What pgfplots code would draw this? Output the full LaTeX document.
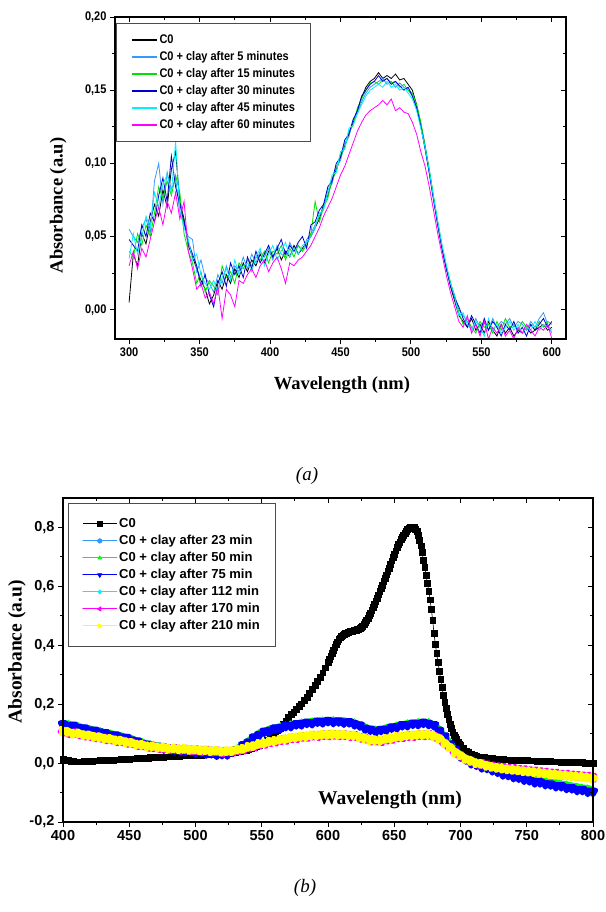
\documentclass[border=0pt]{standalone}
\usepackage{pgfplots}
\pgfplotsset{compat=1.18}
\usepackage{pgfplotstable}
\usepackage{fontspec}
\setmainfont{Liberation Serif}
\newfontfamily\narrowsans[FakeStretch=0.88]{Liberation Sans}
\newfontfamily\arialf{Liberation Sans}

\definecolor{lblue}{RGB}{51,153,255}
\definecolor{cgreen}{RGB}{0,225,0}
\definecolor{dblue}{RGB}{0,0,205}
\definecolor{ccyan}{RGB}{0,240,255}
\definecolor{cmag}{RGB}{255,0,255}
\definecolor{cyel}{RGB}{255,255,0}
\definecolor{bgreen}{RGB}{0,255,0}
\definecolor{bblue}{RGB}{0,0,255}

\pgfplotstableread{
x c0 m5 m15 m30 m45 m60
300 0.005 0.055 0.040 0.048 0.035 0.030
303 0.038 0.050 0.036 0.044 0.052 0.040
306 0.030 0.046 0.052 0.040 0.038 0.028
309 0.052 0.056 0.044 0.058 0.050 0.042
312 0.045 0.062 0.058 0.050 0.064 0.036
315 0.060 0.052 0.050 0.066 0.056 0.048
318 0.072 0.088 0.066 0.060 0.080 0.060
321 0.064 0.100 0.084 0.078 0.070 0.070
324 0.082 0.072 0.076 0.090 0.086 0.058
327 0.070 0.094 0.088 0.074 0.092 0.074
330 0.096 0.082 0.078 0.105 0.080 0.066
333 0.108 0.090 0.092 0.084 0.115 0.080
336 0.074 0.066 0.080 0.072 0.068 0.062
339 0.062 0.058 0.052 0.060 0.056 0.074
342 0.044 0.050 0.040 0.046 0.048 0.040
345 0.036 0.048 0.032 0.038 0.034 0.028
348 0.028 0.026 0.018 0.030 0.038 0.014
351 0.020 0.034 0.026 0.016 0.024 0.018
354 0.014 0.022 0.012 0.024 0.018 0.008
357 0.004 0.018 0.020 0.010 0.014 0.012
360 0.010 0.012 0.016 0.002 0.020 0.004
363 0.020 0.024 0.010 0.018 0.012 0.016
366 0.014 0.018 0.030 0.026 0.022 -0.006
369 0.024 0.030 0.022 0.016 0.028 0.014
372 0.018 0.022 0.026 0.032 0.020 0.010
375 0.028 0.030 0.018 0.024 0.034 0.002
378 0.022 0.026 0.032 0.030 0.024 0.020
381 0.032 0.036 0.028 0.022 0.030 0.018
384 0.026 0.028 0.034 0.036 0.032 0.024
387 0.034 0.038 0.030 0.028 0.026 0.028
390 0.030 0.032 0.036 0.040 0.036 0.022
393 0.038 0.040 0.034 0.032 0.042 0.030
396 0.032 0.036 0.040 0.038 0.030 0.034
399 0.040 0.042 0.032 0.044 0.038 0.026
402 0.036 0.034 0.040 0.036 0.044 0.032
405 0.042 0.044 0.038 0.042 0.034 0.036
408 0.034 0.038 0.044 0.048 0.040 0.028
411 0.040 0.036 0.034 0.038 0.046 0.018
414 0.036 0.046 0.042 0.044 0.036 0.032
417 0.044 0.040 0.036 0.040 0.042 0.030
420 0.038 0.044 0.044 0.046 0.038 0.034
423 0.042 0.040 0.040 0.050 0.044 0.036
426 0.046 0.048 0.044 0.042 0.046 0.040
429 0.050 0.052 0.052 0.058 0.050 0.044
432 0.056 0.058 0.074 0.060 0.056 0.050
435 0.062 0.064 0.060 0.068 0.066 0.056
438 0.072 0.070 0.070 0.072 0.068 0.064
441 0.078 0.082 0.076 0.084 0.080 0.070
444 0.088 0.086 0.090 0.088 0.092 0.076
447 0.096 0.098 0.094 0.100 0.094 0.084
450 0.104 0.102 0.106 0.104 0.108 0.092
453 0.112 0.114 0.110 0.116 0.110 0.098
456 0.120 0.118 0.122 0.120 0.124 0.106
459 0.128 0.130 0.126 0.130 0.126 0.114
462 0.136 0.134 0.138 0.136 0.134 0.122
465 0.145 0.142 0.144 0.146 0.140 0.128
468 0.152 0.148 0.150 0.150 0.146 0.133
471 0.156 0.152 0.155 0.154 0.150 0.136
474 0.158 0.154 0.156 0.156 0.152 0.138
477 0.162 0.156 0.154 0.160 0.154 0.140
480 0.158 0.158 0.157 0.156 0.152 0.143
483 0.160 0.154 0.158 0.158 0.156 0.140
486 0.158 0.156 0.155 0.154 0.152 0.144
489 0.161 0.152 0.156 0.156 0.154 0.136
492 0.157 0.155 0.152 0.153 0.150 0.138
495 0.158 0.152 0.154 0.150 0.152 0.135
498 0.154 0.150 0.150 0.152 0.148 0.134
501 0.150 0.146 0.148 0.146 0.144 0.128
504 0.140 0.138 0.140 0.138 0.136 0.120
507 0.127 0.126 0.128 0.125 0.124 0.108
510 0.112 0.110 0.112 0.110 0.111 0.098
513 0.095 0.094 0.096 0.093 0.095 0.084
516 0.076 0.076 0.078 0.075 0.077 0.068
519 0.058 0.060 0.060 0.058 0.060 0.052
522 0.042 0.044 0.044 0.042 0.044 0.038
525 0.029 0.030 0.030 0.028 0.031 0.024
528 0.016 0.018 0.019 0.017 0.018 0.012
531 0.006 0.010 0.008 0.008 0.009 0.002
534 -0.004 0.000 -0.002 0.002 -0.004 -0.008
537 -0.008 -0.004 -0.010 -0.006 -0.002 -0.012
540 -0.012 -0.008 -0.006 -0.012 -0.010 -0.004
543 -0.006 -0.014 -0.012 -0.004 -0.014 -0.016
546 -0.014 -0.006 -0.016 -0.010 -0.008 -0.010
549 -0.010 -0.012 -0.008 -0.016 -0.012 -0.018
552 -0.016 -0.008 -0.012 -0.006 -0.018 -0.008
555 -0.008 -0.014 -0.010 -0.014 -0.006 -0.020
558 -0.014 -0.006 -0.016 -0.008 -0.014 -0.012
561 -0.018 -0.012 -0.008 -0.012 -0.010 -0.016
564 -0.010 -0.008 -0.014 -0.018 -0.016 -0.010
567 -0.016 -0.010 -0.006 -0.010 -0.012 -0.018
570 -0.012 -0.006 -0.012 -0.014 -0.008 -0.014
573 -0.018 -0.012 -0.010 -0.008 -0.014 -0.020
576 -0.014 -0.008 -0.014 -0.016 -0.010 -0.012
579 -0.016 -0.010 -0.008 -0.012 -0.016 -0.016
582 -0.012 -0.014 -0.012 -0.018 -0.012 -0.010
585 -0.016 -0.008 -0.010 -0.010 -0.014 -0.014
588 -0.014 -0.012 -0.014 -0.014 -0.008 -0.018
591 -0.012 -0.006 -0.008 -0.010 -0.014 -0.012
594 -0.010 -0.002 -0.012 -0.006 -0.010 -0.014
597 -0.014 -0.010 -0.008 -0.012 -0.012 -0.010
600 -0.012 -0.016 -0.010 -0.008 -0.014 -0.020
}\tabA

\pgfplotstableread{
x c0
400 0.013
402 0.011
404 0.009
406 0.007
408 0.006
410 0.005
412 0.005
414 0.005
416 0.006
418 0.006
420 0.007
422 0.007
424 0.008
426 0.008
428 0.009
430 0.009
432 0.010
434 0.010
436 0.011
438 0.011
440 0.012
442 0.012
444 0.013
446 0.013
448 0.014
450 0.014
452 0.015
454 0.015
456 0.016
458 0.017
460 0.017
462 0.018
464 0.018
466 0.019
468 0.019
470 0.020
472 0.020
474 0.021
476 0.021
478 0.022
480 0.022
482 0.023
484 0.023
486 0.024
488 0.024
490 0.025
492 0.025
494 0.026
496 0.026
498 0.027
500 0.027
502 0.028
504 0.028
506 0.029
508 0.029
510 0.030
512 0.030
514 0.031
516 0.031
518 0.032
520 0.033
522 0.033
524 0.034
526 0.035
528 0.036
530 0.037
532 0.039
534 0.040
536 0.042
538 0.044
540 0.047
542 0.050
544 0.053
546 0.057
548 0.061
550 0.066
552 0.071
554 0.077
556 0.084
558 0.092
560 0.100
562 0.110
564 0.120
566 0.132
568 0.144
570 0.155
572 0.165
574 0.174
576 0.183
578 0.192
580 0.202
582 0.213
584 0.225
586 0.238
588 0.252
590 0.265
592 0.278
594 0.292
596 0.307
598 0.324
600 0.342
601 0.352
602 0.362
603 0.372
604 0.383
605 0.393
606 0.403
607 0.412
608 0.420
609 0.426
610 0.431
611 0.435
612 0.438
613 0.440
614 0.442
615 0.444
616 0.446
617 0.447
618 0.448
619 0.450
620 0.451
621 0.452
622 0.454
623 0.456
624 0.459
625 0.462
626 0.466
627 0.472
628 0.478
629 0.485
630 0.493
631 0.501
632 0.510
633 0.520
634 0.530
635 0.540
636 0.551
637 0.561
638 0.572
639 0.583
640 0.594
641 0.605
642 0.617
643 0.628
644 0.640
645 0.652
646 0.663
647 0.675
648 0.687
649 0.698
650 0.710
651 0.721
652 0.732
653 0.742
654 0.751
655 0.760
656 0.768
657 0.775
658 0.782
659 0.788
660 0.794
661 0.798
662 0.801
663 0.803
664 0.802
665 0.800
666 0.795
667 0.787
668 0.775
669 0.758
670 0.738
671 0.715
672 0.690
673 0.664
674 0.638
675 0.612
676 0.585
677 0.555
678 0.522
679 0.485
680 0.440
681 0.405
682 0.372
683 0.342
684 0.313
685 0.285
686 0.258
687 0.232
688 0.208
689 0.186
690 0.166
691 0.148
692 0.132
693 0.118
694 0.106
695 0.096
696 0.087
697 0.080
698 0.073
699 0.066
700 0.060
702 0.050
704 0.042
706 0.036
708 0.031
710 0.027
712 0.024
714 0.022
716 0.020
718 0.019
720 0.017
722 0.016
724 0.016
726 0.015
728 0.014
730 0.013
732 0.013
734 0.012
736 0.012
738 0.011
740 0.011
742 0.010
744 0.010
746 0.010
748 0.009
750 0.009
752 0.008
754 0.008
756 0.008
758 0.007
760 0.007
762 0.007
764 0.006
766 0.006
768 0.006
770 0.005
772 0.005
774 0.005
776 0.004
778 0.004
780 0.004
782 0.003
784 0.003
786 0.003
788 0.002
790 0.002
792 0.002
794 0.001
796 0.001
798 0.000
800 0.000
}\tabCz

\pgfplotstableread{
x m23 m50 m75 m112 m170 m210
400 0.136 0.137 0.132 0.112 0.107 0.109
404 0.129 0.136 0.126 0.109 0.101 0.106
408 0.128 0.130 0.127 0.105 0.102 0.100
412 0.122 0.128 0.119 0.102 0.097 0.101
416 0.121 0.122 0.118 0.101 0.093 0.095
420 0.114 0.120 0.111 0.096 0.092 0.094
424 0.112 0.114 0.110 0.095 0.087 0.089
428 0.106 0.112 0.104 0.090 0.086 0.088
432 0.104 0.106 0.102 0.089 0.081 0.083
436 0.098 0.104 0.095 0.084 0.080 0.082
440 0.096 0.098 0.094 0.083 0.075 0.077
444 0.090 0.096 0.087 0.078 0.074 0.076
448 0.088 0.090 0.086 0.077 0.069 0.071
452 0.080 0.086 0.077 0.071 0.067 0.069
456 0.076 0.078 0.074 0.069 0.061 0.063
460 0.068 0.074 0.065 0.064 0.060 0.062
464 0.065 0.067 0.063 0.063 0.055 0.057
468 0.059 0.065 0.056 0.059 0.055 0.057
472 0.058 0.060 0.056 0.059 0.051 0.053
476 0.053 0.059 0.050 0.055 0.051 0.053
480 0.052 0.054 0.050 0.055 0.047 0.049
484 0.048 0.054 0.045 0.052 0.048 0.050
488 0.048 0.050 0.046 0.053 0.045 0.047
492 0.044 0.050 0.041 0.050 0.046 0.048
496 0.044 0.046 0.042 0.051 0.043 0.045
500 0.040 0.046 0.037 0.048 0.044 0.046
504 0.040 0.042 0.038 0.049 0.041 0.043
508 0.036 0.042 0.033 0.046 0.042 0.044
512 0.036 0.038 0.034 0.047 0.039 0.041
516 0.032 0.038 0.029 0.044 0.040 0.042
520 0.033 0.035 0.031 0.045 0.037 0.039
524 0.033 0.039 0.030 0.043 0.039 0.041
528 0.041 0.043 0.039 0.047 0.039 0.041
532 0.049 0.055 0.046 0.048 0.044 0.046
536 0.063 0.065 0.061 0.054 0.046 0.048
540 0.073 0.079 0.070 0.057 0.053 0.055
544 0.089 0.091 0.087 0.064 0.056 0.058
548 0.099 0.105 0.096 0.067 0.063 0.065
552 0.109 0.111 0.107 0.073 0.065 0.067
556 0.113 0.119 0.110 0.075 0.071 0.073
560 0.120 0.122 0.118 0.081 0.073 0.075
564 0.122 0.128 0.119 0.082 0.078 0.080
568 0.128 0.130 0.126 0.087 0.079 0.081
572 0.129 0.135 0.126 0.088 0.084 0.086
576 0.134 0.136 0.132 0.093 0.085 0.087
580 0.135 0.141 0.132 0.093 0.089 0.091
584 0.139 0.141 0.137 0.097 0.089 0.091
588 0.139 0.145 0.136 0.097 0.093 0.095
592 0.143 0.145 0.141 0.100 0.092 0.094
596 0.142 0.148 0.139 0.099 0.095 0.097
600 0.145 0.147 0.143 0.102 0.094 0.096
604 0.143 0.149 0.140 0.100 0.096 0.098
608 0.144 0.146 0.142 0.102 0.094 0.096
612 0.141 0.147 0.138 0.099 0.095 0.097
616 0.141 0.143 0.139 0.100 0.092 0.094
620 0.135 0.141 0.132 0.096 0.092 0.094
624 0.130 0.132 0.128 0.094 0.086 0.088
628 0.120 0.126 0.117 0.087 0.083 0.085
632 0.116 0.118 0.114 0.084 0.076 0.078
636 0.111 0.117 0.108 0.080 0.076 0.078
640 0.115 0.117 0.113 0.083 0.075 0.077
644 0.117 0.123 0.114 0.084 0.080 0.082
648 0.123 0.125 0.121 0.090 0.082 0.084
652 0.125 0.131 0.122 0.091 0.087 0.089
656 0.131 0.133 0.129 0.096 0.088 0.090
660 0.132 0.138 0.129 0.096 0.092 0.094
664 0.136 0.138 0.134 0.100 0.092 0.094
668 0.136 0.142 0.133 0.099 0.095 0.097
672 0.139 0.141 0.137 0.102 0.094 0.096
676 0.136 0.142 0.133 0.100 0.096 0.098
680 0.131 0.133 0.129 0.098 0.090 0.092
684 0.113 0.119 0.110 0.086 0.082 0.084
688 0.093 0.095 0.091 0.074 0.066 0.068
692 0.067 0.073 0.064 0.056 0.052 0.054
696 0.048 0.050 0.046 0.043 0.035 0.037
700 0.026 0.032 0.023 0.028 0.024 0.026
704 0.015 0.017 0.013 0.020 0.012 0.014
708 0.003 0.009 0.000 0.010 0.006 0.008
712 -0.003 0.001 -0.005 0.006 -0.002 0.000
716 -0.011 -0.003 -0.014 0.001 -0.003 -0.003
720 -0.014 -0.006 -0.016 -0.002 -0.008 -0.009
724 -0.021 -0.010 -0.024 -0.006 -0.011 -0.013
728 -0.027 -0.020 -0.029 -0.009 -0.014 -0.016
732 -0.035 -0.023 -0.038 -0.013 -0.016 -0.019
736 -0.038 -0.030 -0.040 -0.014 -0.019 -0.021
740 -0.044 -0.033 -0.047 -0.017 -0.020 -0.023
744 -0.047 -0.039 -0.049 -0.018 -0.023 -0.025
748 -0.053 -0.042 -0.056 -0.021 -0.024 -0.027
752 -0.056 -0.048 -0.058 -0.022 -0.027 -0.029
756 -0.062 -0.051 -0.065 -0.025 -0.028 -0.031
760 -0.063 -0.055 -0.065 -0.026 -0.031 -0.033
764 -0.068 -0.057 -0.071 -0.029 -0.032 -0.035
768 -0.070 -0.062 -0.072 -0.030 -0.035 -0.037
772 -0.075 -0.064 -0.078 -0.033 -0.036 -0.039
776 -0.076 -0.068 -0.078 -0.034 -0.039 -0.041
780 -0.081 -0.070 -0.084 -0.036 -0.039 -0.042
784 -0.083 -0.075 -0.085 -0.037 -0.042 -0.044
788 -0.088 -0.077 -0.091 -0.040 -0.043 -0.046
792 -0.089 -0.081 -0.091 -0.040 -0.045 -0.047
796 -0.094 -0.083 -0.097 -0.043 -0.046 -0.049
800 -0.095 -0.087 -0.097 -0.044 -0.049 -0.051
}\tabB

\pgfplotsset{
  mybase/.style={
    scale only axis,
    axis line style={line width=1.2pt},
    every tick/.style={black, line width=1pt},
    major tick length=5pt, minor tick length=3pt,
    /pgf/number format/assume math mode=true,
  },
  band/.style={line width=5pt, line join=round, line cap=round, mark options={solid, line width=0.3pt}},
}

\begin{document}
\begin{tikzpicture}
\path[use as bounding box] (0pt,0pt) rectangle (605pt,-912pt);

% ---------------- (a) ----------------
\begin{axis}[mybase,
  at={(115pt,-339pt)}, anchor=south west, width=451pt, height=322pt,
  xmin=290, xmax=610, ymin=-0.02, ymax=0.20,
  xtick={300,350,400,450,500,550,600}, minor x tick num=1,
  ytick={0,0.05,0.1,0.15,0.2}, minor y tick num=1,
  xtick pos=left, ytick pos=left, tick align=outside,
  tick label style={font=\narrowsans\bfseries\fontsize{12.5}{14}\selectfont},
  yticklabel style={/pgf/number format/.cd, fixed, fixed zerofill, precision=2, use comma},
  xlabel={Wavelength (nm)},
  xlabel style={font=\bfseries\fontsize{18.5}{20}\selectfont, at={(axis description cs:0.503,-0.143)}, anchor=center},
  ylabel={Absorbance (a.u)},
  ylabel style={font=\bfseries\fontsize{18.5}{20}\selectfont, at={(axis description cs:-0.126,0.415)}, anchor=center},
  legend cell align=left,
  legend image code/.code={\draw[#1, line width=1.6pt] (0pt,0pt) -- (25pt,0pt);},
  legend style={at={(0.003,0.981)}, anchor=north west, draw=black!70, line width=1.1pt,
    font=\narrowsans\bfseries\fontsize{12.5}{13}\selectfont,
    inner xsep=14pt, inner ysep=8pt, row sep=0pt,
    nodes={inner sep=2pt, text height=10pt, text depth=3pt},
    /tikz/every even column/.append style={column sep=1pt}},
]
\addplot[black, line width=0.8pt, no markers] table[x=x,y=c0]{\tabA};
\addlegendentry{C0}
\addplot[lblue, line width=0.8pt, no markers] table[x=x,y=m5]{\tabA};
\addlegendentry{C0 + clay after 5 minutes}
\addplot[cgreen, line width=0.8pt, no markers] table[x=x,y=m15]{\tabA};
\addlegendentry{C0 + clay after 15 minutes}
\addplot[dblue, line width=0.8pt, no markers] table[x=x,y=m30]{\tabA};
\addlegendentry{C0 + clay after 30 minutes}
\addplot[ccyan, line width=0.8pt, no markers] table[x=x,y=m45]{\tabA};
\addlegendentry{C0 + clay after 45 minutes}
\addplot[cmag, line width=0.8pt, no markers] table[x=x,y=m60]{\tabA};
\addlegendentry{C0 + clay after 60 minutes}
\end{axis}
\begin{axis}[mybase,
  at={(115pt,-339pt)}, anchor=south west, width=451pt, height=322pt,
  xmin=290, xmax=610, ymin=-0.02, ymax=0.20,
  xtick={300,350,400,450,500,550,600}, minor x tick num=1,
  ytick={0,0.05,0.1,0.15,0.2}, minor y tick num=1,
  xtick pos=right, ytick pos=right, tick align=inside,
  xticklabels={}, yticklabels={},
]
\end{axis}
\node[font=\itshape\fontsize{19}{20}\selectfont] at (307pt,-476pt) {(a)};

% ---------------- (b) ----------------
\begin{axis}[mybase,
  at={(63pt,-822pt)}, anchor=south west, width=530pt, height=324pt,
  xmin=400, xmax=800, ymin=-0.2, ymax=0.9,
  xtick={400,450,500,550,600,650,700,750,800}, minor x tick num=1,
  ytick={-0.2,0,0.2,0.4,0.6,0.8}, minor y tick num=1,
  xtick pos=left, ytick pos=left, tick align=outside,
  tick label style={font=\arialf\bfseries\fontsize{14.5}{16}\selectfont},
  yticklabel style={/pgf/number format/.cd, fixed, fixed zerofill, precision=1, use comma},
  xlabel={Wavelength (nm)},
  xlabel style={font=\bfseries\fontsize{19.5}{21}\selectfont, at={(axis description cs:0.617,0.068)}, anchor=center},
  ylabel={Absorbance (a.u)},
  ylabel style={font=\bfseries\fontsize{19.5}{21}\selectfont, at={(axis description cs:-0.087,0.525)}, anchor=center},
  legend cell align=left,
  legend image code/.code={\draw[mark repeat=2, mark phase=2, #1, line width=0.9pt] plot coordinates {(0pt,0pt) (17pt,0pt) (34pt,0pt)};},
  legend image post style={mark size=2.4pt, line width=0.9pt},
  legend style={at={(0.009,0.985)}, anchor=north west, draw=black!70, line width=1.1pt,
    font=\arialf\bfseries\fontsize{13}{14}\selectfont,
    inner xsep=14pt, inner ysep=12pt, row sep=0pt,
    nodes={inner sep=2pt, text height=10pt, text depth=3pt},
    /tikz/every even column/.append style={column sep=1pt}},
]
\addplot[black, line width=0.6pt, mark=square*, mark size=2.9pt, mark options={solid, line width=0.3pt}] table[x=x,y=c0]{\tabCz};
\addlegendentry{C0}
\addplot[lblue, band, mark=*, mark size=2.6pt] table[x=x,y=m23]{\tabB};
\addlegendentry{C0 + clay after 23 min}
\addplot[bgreen, band, mark=triangle*, mark size=3pt] table[x=x,y=m50]{\tabB};
\addlegendentry{C0 + clay after 50 min}
\addplot[bblue, band, mark=triangle*, mark size=3pt, mark options={rotate=180}] table[x=x,y=m75]{\tabB};
\addlegendentry{C0 + clay after 75 min}
\addplot[ccyan, band, mark=diamond*, mark size=3pt] table[x=x,y=m112]{\tabB};
\addlegendentry{C0 + clay after 112 min}
\addplot[cmag, band, mark=triangle*, mark size=3pt, mark options={rotate=90}] table[x=x,y=m170]{\tabB};
\addlegendentry{C0 + clay after 170 min}
\addplot[cyel, band, mark=triangle*, mark size=3pt, mark options={rotate=270}] table[x=x,y=m210]{\tabB};
\addlegendentry{C0 + clay after 210 min}
\end{axis}
\begin{axis}[mybase,
  at={(63pt,-822pt)}, anchor=south west, width=530pt, height=324pt,
  xmin=400, xmax=800, ymin=-0.2, ymax=0.9,
  xtick={400,450,500,550,600,650,700,750,800}, minor x tick num=1,
  ytick={-0.2,0,0.2,0.4,0.6,0.8}, minor y tick num=1,
  xtick pos=right, ytick pos=right, tick align=inside,
  xticklabels={}, yticklabels={},
]
\end{axis}
\node[font=\itshape\fontsize{19}{20}\selectfont] at (305pt,-888pt) {(b)};
\end{tikzpicture}
\end{document}
